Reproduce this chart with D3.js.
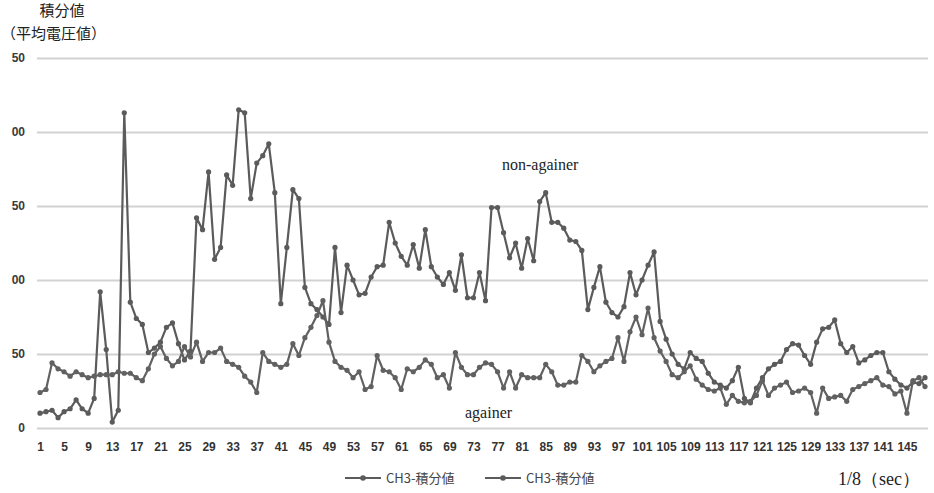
<!DOCTYPE html>
<html>
<head>
<meta charset="utf-8">
<script src="https://cdn.jsdelivr.net/npm/d3@7"></script>
<style>
  html, body { margin: 0; padding: 0; background: #ffffff; }
  svg { display: block; }
</style>
</head>
<body>
<svg id="chart" width="934" height="493"></svg>
<script>
// Sample index (1/8 s steps)
const categories = d3.range(1, 149);

// CH3 integrated value – non-againer
const nonAgainer = [
  10, 11, 12, 7, 11, 13, 19, 13, 10, 20,
  92, 53, 4, 12, 213, 85, 74, 70, 51, 54,
  58, 68, 71, 57, 46, 52, 142, 134, 173, 114,
  122, 171, 164, 215, 213, 155, 179, 184, 192, 159,
  84, 122, 161, 155, 95, 84, 80, 75, 70, 122,
  78, 110, 100, 90, 91, 102, 109, 110, 139, 125,
  116, 110, 124, 108, 134, 109, 102, 97, 105, 93,
  117, 88, 88, 105, 86, 149, 149, 132, 115, 125,
  108, 128, 113, 153, 159, 139, 139, 135, 127, 126,
  120, 80, 95, 109, 85, 78, 75, 82, 105, 90,
  100, 110, 119, 72, 60, 50, 43, 40, 51, 47,
  45, 37, 31, 29, 27, 32, 41, 20, 17, 27,
  34, 40, 43, 45, 53, 57, 56, 49, 43, 58,
  67, 68, 73, 57, 51, 55, 44, 46, 49, 51,
  51, 38, 33, 29, 27, 31, 30, 34
];

// CH3 integrated value – againer
const againer = [
  24, 26, 44, 40, 38, 35, 38, 36, 34, 35,
  36, 36, 36, 38, 37, 37, 34, 32, 40, 50,
  55, 47, 42, 45, 55, 48, 58, 45, 51, 51,
  54, 45, 43, 41, 35, 31, 24, 51, 45, 43,
  41, 43, 57, 49, 61, 68, 76, 86, 58, 45,
  41, 39, 34, 38, 26, 28, 49, 39, 38, 34,
  26, 40, 38, 41, 46, 43, 34, 36, 27, 51,
  41, 36, 36, 41, 44, 43, 38, 27, 38, 27,
  36, 34, 34, 34, 43, 38, 29, 29, 31, 31,
  49, 45, 38, 42, 45, 47, 61, 45, 65, 75,
  63, 81, 61, 52, 45, 36, 34, 38, 42, 33,
  29, 26, 25, 27, 16, 22, 18, 17, 18, 22,
  32, 22, 27, 29, 31, 24, 25, 27, 24, 10,
  27, 20, 21, 22, 18, 26, 28, 30, 32, 34,
  29, 28, 23, 25, 10, 32, 34, 28
];

const xTickLabels = [1, 5, 9, 13, 17, 21, 25, 29, 33, 37, 41, 45, 49, 53, 57, 61, 65, 69, 73,
  77, 81, 85, 89, 93, 97, 101, 105, 109, 113, 117, 121, 125, 129, 133, 137, 141, 145];
const yTicks = [0, 50, 100, 150, 200, 250];
const seriesNames = ["CH3-積分値", "CH3-積分値"];

const svg = d3.select("#chart");
const lineColor = "#5b5b5b";
const gridColor = "#d2d2d2";

const x = d3.scalePoint().domain(categories).range([40, 925]);
const y = d3.scaleLinear().domain([0, 250]).range([428, 58]);

// Horizontal gridlines
const yAxis = d3.axisLeft(y)
  .tickValues(yTicks)
  .tickSize(-(928 - 37))
  .tickPadding(12)
  .tickFormat(d => d === 0 ? "0" : String(d).slice(-2));

const gy = svg.append("g")
  .attr("transform", "translate(37,0)")
  .call(yAxis);
gy.select(".domain").remove();
gy.selectAll(".tick line").attr("stroke", gridColor).attr("stroke-width", 2);
gy.selectAll(".tick text")
  .attr("fill", "#3a3a3a")
  .attr("font-family", "'Liberation Sans', Arial, sans-serif")
  .attr("font-weight", "bold")
  .attr("font-size", 12);

// Category labels
const xAxis = d3.axisBottom(x)
  .tickValues(xTickLabels)
  .tickSize(0)
  .tickPadding(14);
const gx = svg.append("g")
  .attr("transform", "translate(0,428)")
  .call(xAxis);
gx.select(".domain").remove();
gx.selectAll(".tick text")
  .attr("fill", "#333")
  .attr("font-family", "'Liberation Sans', Arial, sans-serif")
  .attr("font-weight", "bold")
  .attr("font-size", 12);

// Series lines with dot markers
const line = d3.line()
  .x((d, i) => x(categories[i]))
  .y(d => y(d));

[nonAgainer, againer].forEach((vals, k) => {
  const g = svg.append("g");
  g.append("path")
    .datum(vals)
    .attr("fill", "none")
    .attr("stroke", k === 0 ? lineColor : "#616161")
    .attr("stroke-width", 2.2)
    .attr("stroke-linejoin", "round")
    .attr("d", line);
  g.selectAll("circle")
    .data(vals)
    .join("circle")
    .attr("cx", (d, i) => x(categories[i]))
    .attr("cy", d => y(d))
    .attr("r", 2.6)
    .attr("fill", k === 0 ? lineColor : "#616161");
});

// Axis title
const title = svg.append("g")
  .attr("font-family", "'Noto Sans CJK JP', sans-serif")
  .attr("fill", "#222");
title.append("text").attr("x", 62).attr("y", 16)
  .attr("text-anchor", "middle").attr("font-size", 15).text("積分値");
title.append("text").attr("x", 1).attr("y", 39)
  .attr("font-size", 15).text("（平均電圧値）");

// Group labels
svg.append("text")
  .attr("x", 502).attr("y", 170)
  .attr("font-family", "'Liberation Serif', 'DejaVu Serif', serif")
  .attr("font-size", 16).attr("fill", "#222")
  .text("non-againer");
svg.append("text")
  .attr("x", 465).attr("y", 418)
  .attr("font-family", "'Liberation Serif', 'DejaVu Serif', serif")
  .attr("font-size", 16).attr("fill", "#222")
  .text("againer");

// Unit label
svg.append("text")
  .attr("x", 920).attr("y", 485)
  .attr("text-anchor", "end")
  .attr("font-family", "'Liberation Serif', 'DejaVu Serif', serif")
  .attr("font-size", 18).attr("fill", "#222")
  .text("1/8（sec）");

// Legend
const legend = svg.append("g").attr("transform", "translate(0,478)");
const legendX = [345, 485];
seriesNames.forEach((name, k) => {
  const lg = legend.append("g").attr("transform", `translate(${legendX[k]},0)`);
  lg.append("line").attr("x1", 0).attr("x2", 36).attr("y1", 0).attr("y2", 0)
    .attr("stroke", lineColor).attr("stroke-width", 2.2);
  lg.append("circle").attr("cx", 18).attr("cy", 0).attr("r", 2.8).attr("fill", lineColor);
  lg.append("text").attr("x", 41).attr("y", 4.5)
    .attr("font-family", "'Noto Sans CJK JP', sans-serif")
    .attr("font-size", 13).attr("fill", "#444")
    .text(name);
});
</script>
</body>
</html>
